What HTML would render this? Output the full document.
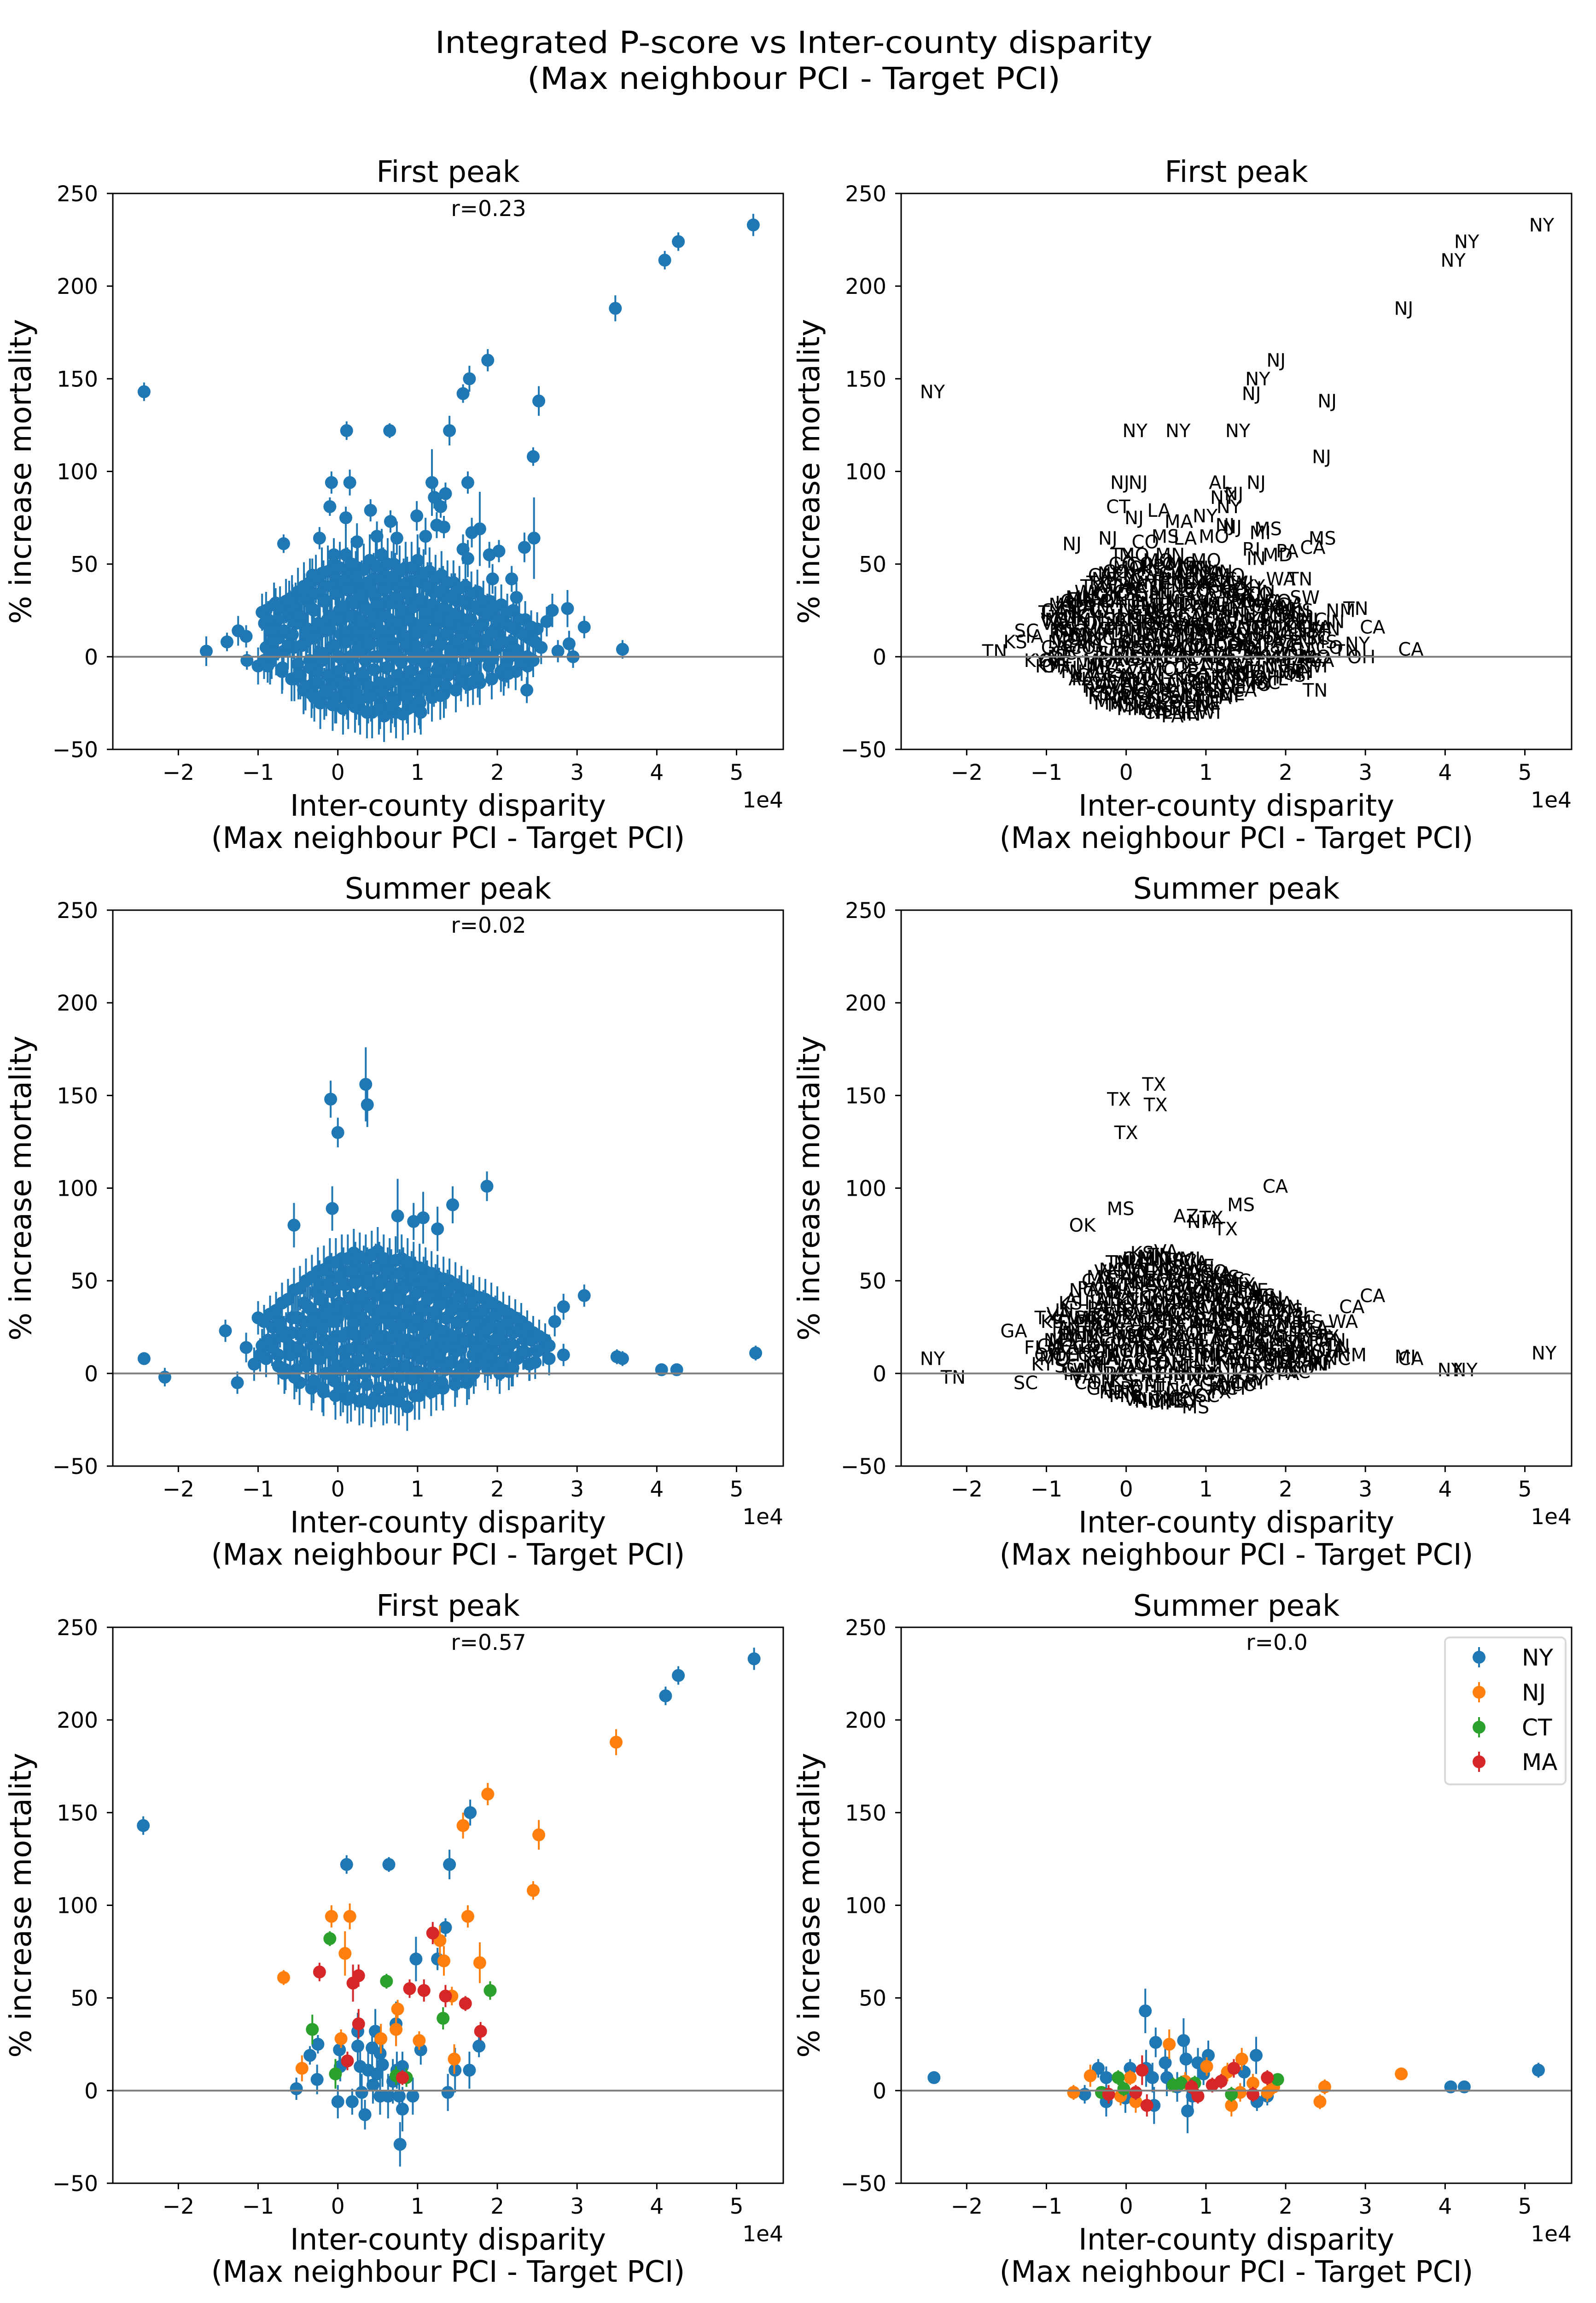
<!DOCTYPE html>
<html><head><meta charset="utf-8"><style>
html,body{margin:0;padding:0;background:#fff;width:3466px;height:5019px;overflow:hidden;position:relative;}
#fig{position:absolute;left:0;top:0;display:block;overflow:hidden;}
svg text{font-family:"DejaVu Sans","Liberation Sans",sans-serif;}
</style></head><body><svg id="fig" xmlns="http://www.w3.org/2000/svg" width="3466" height="5019" viewBox="0 0 3466 5019"><rect width="3466" height="5019" fill="#fff"/><text x="1724" y="115" font-size="66" text-anchor="middle" textLength="1558" lengthAdjust="spacingAndGlyphs">Integrated P-score vs Inter-county disparity</text><text x="1724" y="193" font-size="66" text-anchor="middle" textLength="1158" lengthAdjust="spacingAndGlyphs">(Max neighbour PCI - Target PCI)</text></svg><script>
// ---------- data ----------
const fpOutX = [-2.43,5.21,4.27,4.10,3.48,1.88,1.65,1.57,2.52,0.11,0.65,1.40,2.45,-0.08,0.15,1.63,1.18,1.35,-0.10,1.21,1.29,0.41,0.99,0.66,0.10,1.24,1.33,1.78,1.68,0.49,1.10,-0.23,2.46,-0.68,0.74,0.24,2.34,2.02,1.90,1.57,1.63,-0.05,-0.32,1.94,2.18,2.24,3.09,2.88,2.69,2.62,3.57,2.95,2.90,2.76,2.37,2.14,1.04,-1.65,-1.39,-1.25,-1.15,-1.14,-0.88,-0.90,-0.89,-0.78,-0.57,-0.61,-0.39,-0.31];
const fpOutY = [143,233,224,214,188,160,150,142,138,122,122,122,108,94,94,94,94,88,81,86,81,79,76,73,75,71,70,69,67,65,65,64,64,61,64,62,59,57,55,58,53,55,44,42,42,32,16,26,25,19,4,0,7,3,-18,-9,-30,3,8,14,11,-2,-5,25,20,29,27,31,33,34];
const fpOutE = [5,6,5,5,7,6,7,5,8,5,4,8,5,6,7,6,18,6,5,6,6,6,8,6,6,7,6,20,8,8,10,6,22,5,9,10,8,6,7,8,10,7,9,8,7,8,6,10,9,8,5,6,7,6,7,8,12,8,5,8,6,5,9,10,9,8,12,10,9,9];
const fpOutS = ["NY","NY","NY","NY","NJ","NJ","NY","NJ","NJ","NY","NY","NY","NJ","NJ","NJ","NJ","AL","NJ","CT","NY","NY","LA","NY","MA","NJ","NJ","NJ","MS","MI","MS","MO","NJ","MS","NJ","LA","CO","CA","PA","MD","RI","IN","TX","CA","WA","TN","SW","CA","TN","NM","IN","CA","OH","NY","TN","TN","OH","WI","TN","KS","SC","IA","KY","OH","GA","WA","IA","GA","FL","NC","KY"];
const fpCoreX = [-0.95,-0.8,-0.65,-0.5,-0.35,-0.2,-0.05,0.1,0.25,0.4,0.55,0.7,0.85,1.0,1.15,1.3,1.45,1.6,1.75,1.9,2.05,2.2,2.35,2.5];
const fpCoreY = [
 [24,5,-5,18],[28,10,-3,15,0],[30,12,-8,22,3,-12],[35,20,5,-10,27,-18,12],
 [40,25,8,-15,15,-5,32,-20],[45,30,12,-20,2,20,-8,38,-25],[50,35,15,-22,5,25,-10,42,-15,0],
 [55,40,20,-25,8,30,-12,45,-18,0,12],[48,38,22,-28,10,28,-15,35,-20,3,15],[52,42,18,-30,6,32,-12,25,-22,0,12],
 [55,40,25,-32,12,30,-18,45,-25,4,18],[50,38,20,-30,8,28,-15,42,-22,0,14],[48,36,22,-28,10,30,-12,40,-20,4,16],
 [52,40,18,-25,6,28,-14,45,-18,0,12],[46,35,20,-22,8,26,-10,38,-16,2,14],[44,32,18,-20,6,25,-12,36,-5,12],
 [40,30,15,-18,5,22,-10,33,0],[38,28,12,-15,3,20,-8,30],[35,25,10,-14,2,18,-6],[30,22,8,-12,0,15],
 [28,18,5,-10,12,-3],[25,14,2,-8,8],[20,10,0,-5],[15,5,-2]];
const fpCoreE = [10,12,12,13,13,14,14,14,14,14,14,14,14,14,13,13,12,12,12,11,11,10,10,9];
const fpCore2X = [-0.875,-0.725,-0.575,-0.425,-0.275,-0.125,0.025,0.175,0.325,0.475,0.625,0.775,0.925,1.075,1.225,1.375,1.525,1.675,1.825,1.975,2.125,2.275,2.425];
const fpCore2Y = [
 [20,8,-2,14],[26,14,2,-6,20],[32,18,6,-12,24,-4],[38,30,22,14,6,-2,-10,-16],
 [42,34,26,18,10,2,-6,-14,-22],[46,38,30,22,14,6,-2,-10,-18,-26],
 [48,41,34,27,20,13,6,-1,-8,-15,-22,-28],[50,43,36,29,22,15,8,1,-6,-13,-20,-27],
 [47,40,33,26,19,12,5,-2,-9,-16,-23,-30],[49,42,35,28,21,14,7,0,-7,-14,-21,-28],
 [50,43,36,29,22,15,8,1,-6,-13,-20,-27],[46,39,32,25,18,11,4,-3,-10,-17,-24,-31],
 [48,41,34,27,20,13,6,-1,-8,-15,-22,-27],[45,38,31,24,17,10,3,-4,-11,-18,-24],
 [42,35,28,21,14,7,0,-7,-14,-21],[40,33,26,19,12,5,-2,-9,-16],[37,30,23,16,9,2,-5,-12],
 [34,27,20,13,6,-1,-8,-14],[30,23,16,9,2,-5,-11],[27,20,13,6,-1,-8],[24,16,8,0,-6],[20,12,4,-3],[16,8,0]];
const fpCore2E = [10,12,12,13,13,14,14,14,14,14,14,14,14,13,13,12,12,12,11,11,10,10,9];
const coreDX = [0,0.05,-0.05,0.03,-0.03,0.07,-0.07,0.02,-0.02,0.06,-0.06,0.04];
const coreStates = ["TX","GA","KY","VA","MS","MO","IA","KS","NE","OH","IN","TN","NC","SC","AL","WI","MN","CO","CA","PA","IL","MI"];

const spOutX = [-2.43,5.24,4.06,4.25,3.50,3.57,-0.09,0.0,0.37,0.35,1.87,3.09,-0.07,-2.17,-1.26,-1.41,-1.15,2.83,2.72,2.65,2.83,1.44,1.07,-0.55,0.75,0.95,1.25];
const spOutY = [8,11,2,2,9,8,148,130,145,156,101,42,89,-2,-5,23,14,36,28,15,10,91,84,80,85,82,78];
const spOutE = [3,4,3,3,4,4,10,8,12,20,8,6,12,5,6,6,8,7,8,6,6,10,14,12,20,10,12];
const spOutS = ["NY","NY","NY","NY","MI","CA","TX","TX","TX","TX","CA","CA","MS","TN","SC","GA","FL","CA","WA","TN","NM","MS","TX","OK","AZ","NM","TX"];
const spCoreX = [-1.0,-0.85,-0.7,-0.55,-0.4,-0.25,-0.1,0.05,0.2,0.35,0.5,0.65,0.8,0.95,1.1,1.25,1.4,1.55,1.7,1.85,2.0,2.15,2.3,2.45,2.6];
const spCoreY = [
 [30,15,5],[32,18,8,25],[38,22,10,0,28],[45,30,15,2,22,-5],[50,35,20,5,28,-8,12],
 [55,40,25,8,32,-10,15,48],[60,45,28,10,35,-12,18,52,0],[62,48,30,12,38,-14,20,55,2],
 [65,50,32,14,40,-15,22,58,4],[62,48,30,12,38,-16,20,55,0],[66,50,34,15,42,-15,24,58,5],
 [60,46,30,12,38,-14,20,54,0],[62,48,32,14,40,-18,22,55,3],[58,44,28,10,36,-12,18,50,0],
 [55,42,26,10,34,-10,18,48,0],[52,40,25,8,32,-8,15,45],[50,38,22,6,30,-6,14],
 [46,35,20,5,28,-5,12],[42,32,18,4,25,10],[40,28,15,2,22,8],[36,25,12,0,18],
 [32,22,10,3,15],[28,18,8,12],[22,12,5],[18,8]];
const spCoreE = [9,10,11,12,12,13,13,13,13,13,13,13,13,13,13,12,12,12,11,11,11,10,10,9,9];
const spCore2X = [-0.925,-0.775,-0.625,-0.475,-0.325,-0.175,-0.025,0.125,0.275,0.425,0.575,0.725,0.875,1.025,1.175,1.325,1.475,1.625,1.775,1.925,2.075,2.225,2.375,2.525];
const spCore2Y = [
 [28,18,10],[34,24,14,4],[40,30,20,10,2],[46,38,30,22,14,6,-2],[52,44,36,28,20,12,4,-4],
 [56,48,40,32,24,16,8,0,-8],[60,52,44,36,28,20,12,4,-4,-10],
 [62,55,48,41,34,27,20,13,6,-1,-8,-13],[63,56,49,42,35,28,21,14,7,0,-7,-14],
 [64,57,50,43,36,29,22,15,8,1,-6,-13],[62,55,48,41,34,27,20,13,6,-1,-8,-14],
 [61,54,47,40,33,26,19,12,5,-2,-9,-15],[60,53,46,39,32,25,18,11,4,-3,-10],
 [57,50,43,36,29,22,15,8,1,-6,-12],[54,47,40,33,26,19,12,5,-2,-8],[51,44,37,30,23,16,9,2,-5],
 [48,41,34,27,20,13,6,-1],[45,38,31,24,17,10,3,-3],[41,34,27,20,13,6,0],[38,31,24,17,10,4],
 [34,27,20,13,6,1],[30,23,16,9,3],[25,18,11,5],[20,13,6]];
const spCore2E = [9,10,11,12,12,13,13,13,13,13,13,13,13,13,12,12,12,11,11,11,10,10,9,9];

const fNYx=[-2.44,5.22,4.27,4.11,1.66,0.11,0.64,1.40,1.35,0.98,1.25,1.04,1.77,-0.25,-0.35,-0.52,-0.26,0.02,0.25,0.25,0.47,0.43,0.53,0.03,0.28,0.38,0.56,0.81,0.74,0.0,0.18,0.34,0.30,0.53,0.63,0.77,0.94,0.81,0.78,1.38,1.47,1.65,0.73,0.49,0.69,0.44];
const fNYy=[143,233,224,213,150,122,122,122,88,71,71,22,24,25,19,1,6,22,32,24,32,23,20,13,13,11,14,13,11,-6,-6,-13,-1,-3,-3,-3,-3,-10,-29,-1,11,11,36,9,5,3];
const fNYe=[5,6,5,5,7,5,4,8,5,12,6,8,6,5,5,6,8,6,10,12,12,10,10,8,12,10,12,8,10,9,7,8,10,10,12,10,10,12,12,10,12,10,12,10,12,10];
const fNJx=[-0.68,-0.08,0.15,0.09,0.04,-0.45,0.54,0.75,0.73,1.02,1.28,1.33,1.43,1.46,1.57,1.88,2.52,2.45,3.49,1.63,1.78];
const fNJy=[61,94,94,74,28,12,28,44,33,27,81,70,51,17,143,160,138,108,188,94,69];
const fNJe=[4,6,7,12,5,7,8,5,9,5,8,8,5,8,7,6,8,5,7,6,11];
const fCTx=[-0.1,0.61,-0.32,-0.03,1.32,1.91,0.73,0.86];
const fCTy=[82,59,33,9,39,54,8,7];
const fCTe=[4,4,8,8,6,5,5,5];
const fMAx=[-0.23,0.19,0.26,0.90,1.08,1.19,1.35,1.60,1.79,0.26,0.12,0.81];
const fMAy=[64,58,62,55,54,85,51,47,32,36,16,7];
const fMAe=[5,10,6,5,6,6,6,4,5,8,5,4];
const sNYx=[-2.41,5.17,4.07,4.24,0.24,0.37,0.72,0.75,1.03,1.63,-0.35,0.05,-0.52,-0.25,-0.25,-0.01,0.35,0.77,0.49,0.25,0.33,0.51,0.64,0.90,0.97,1.48,1.64,1.77,0.83];
const sNYy=[7,11,2,2,43,26,27,17,19,19,12,12,-2,-6,7,-4,-8,-11,15,12,7,7,2,15,9,10,-6,-3,-3];
const sNYe=[3,4,3,3,12,8,12,10,8,10,5,5,5,8,6,8,10,12,8,10,8,10,8,8,6,8,5,5,8];
const sNJx=[-0.66,-0.45,0.05,0.54,0.74,1.01,1.27,1.45,1.32,1.43,1.59,1.77,1.85,2.43,2.49,3.45,0.12,-0.07];
const sNJy=[-1,8,7,25,5,13,10,17,-8,-1,4,-1,2,-6,2,9,-6,-3];
const sNJe=[4,6,4,8,5,5,5,6,6,5,5,5,4,4,4,3,6,5];
const sCTx=[-0.1,-0.31,-0.03,0.59,0.69,0.86,1.32,1.9];
const sCTy=[7,-1,1,3,4,4,-2,6];
const sCTe=[4,3,4,4,4,4,4,3];
const sMAx=[0.2,-0.22,0.12,0.26,0.82,0.9,1.08,1.19,1.35,1.59,1.77];
const sMAy=[11,-2,-1,-8,2,-3,3,5,12,-2,7];
const sMAe=[8,5,4,6,4,4,4,4,5,4,4];

const rLabels = ["r=0.23","","r=0.02","","r=0.57","r=0.0"];

// ---------- drawing ----------
const NS="http://www.w3.org/2000/svg";
const svg=document.getElementById('fig');
const BLUE="#1f77b4",ORANGE="#ff7f0e",GREEN="#2ca02c",RED="#d62728";
const PW=1456,PH=1207,XMIN=-2.822,XMAX=5.586,YMIN=-50,YMAX=250;
const colsL=[245,1957],rowsT=[420,1976,3533];
function mk(tag,attrs,parent){const e=document.createElementNS(NS,tag);for(const k in attrs)e.setAttribute(k,attrs[k]);(parent||svg).appendChild(e);return e;}
function axes(L,T){return{sx:v=>L+(v-XMIN)/(XMAX-XMIN)*PW,sy:v=>T+(YMAX-v)/(YMAX-YMIN)*PH};}

function frame(i,L,T){
  const g=mk('g',{});
  
  
  const cp=mk('clipPath',{id:'cp'+i},g);mk('rect',{x:L,y:T,width:PW,height:PH},cp);
  const plot=mk('g',{'clip-path':'url(#cp'+i+')'},g);
  
  
  return {g,plot};
}
function decorate(i,g,L,T,title){
  const a=axes(L,T);
  const zl=mk('line',{x1:L,x2:L+PW,y1:a.sy(0),y2:a.sy(0),stroke:'#808080','stroke-width':4},g);
  
  
  const bx=mk('rect',{x:L,y:T,width:PW,height:PH,fill:'none',stroke:'#000','stroke-width':3},g);
  
  
  for(let v=-2;v<=5;v++){
    const x=a.sx(v);
    mk('line',{x1:x,x2:x,y1:T+PH,y2:T+PH+13,stroke:'#000','stroke-width':3},g);
    const t=mk('text',{x:x,y:T+PH+66,'font-size':47,'text-anchor':'middle'},g);
    
    
    t.textContent=(v<0?'\u2212'+(-v):String(v));
  }
  for(let v=-50;v<=250;v+=50){
    const y=a.sy(v);
    mk('line',{x1:L-13,x2:L,y1:y,y2:y,stroke:'#000','stroke-width':3},g);
    const t=mk('text',{x:L-32,y:y+17,'font-size':47,'text-anchor':'end'},g);
    
    
    t.textContent=(v<0?'\u2212'+(-v):String(v));
  }
  const ex=mk('text',{x:L+PW,y:T+PH+126,'font-size':47,'text-anchor':'end'},g);
  
  
  ex.textContent='1e4';
  const tt=mk('text',{x:L+PW/2,y:T-25,'font-size':64,'text-anchor':'middle'},g);
  
  
  tt.textContent=title;
  const x1=mk('text',{x:L+PW/2,y:T+PH+144,'font-size':64,'text-anchor':'middle',textLength:686,lengthAdjust:'spacingAndGlyphs'},g);
  
  
  x1.textContent='Inter-county disparity';
  const x2=mk('text',{x:L+PW/2,y:T+PH+214,'font-size':64,'text-anchor':'middle',textLength:1029,lengthAdjust:'spacingAndGlyphs'},g);
  
  
  x2.textContent='(Max neighbour PCI - Target PCI)';
  const cy=T+PH/2, cx=L-178;
  const yl=mk('text',{x:cx,y:cy,'font-size':64,'text-anchor':'middle',transform:'rotate(-90 '+cx+' '+cy+')'},g);
  
  
  yl.textContent='% increase mortality';
  if(rLabels[i]){
    const r=mk('text',{x:L+816,y:T+49,'font-size':47,'text-anchor':'middle'},g);
    
    
    r.textContent=rLabels[i];
  }
}
function drawPoints(parent,a,xs,ys,es,color){
  const bars=mk('g',{},parent);
  
  
  for(let k=0;k<xs.length;k++){
    const l=mk('line',{x1:a.sx(xs[k]),x2:a.sx(xs[k]),y1:a.sy(ys[k]-es[k]),y2:a.sy(ys[k]+es[k]),stroke:color,'stroke-width':4},bars);
    
    
  }
  const pts=mk('g',{},parent);
  
  
  for(let k=0;k<xs.length;k++){
    const c=mk('circle',{cx:a.sx(xs[k]),cy:a.sy(ys[k]),r:14,fill:color},pts);
    
    
  }
}
function drawLabels(parent,a,xs,ys,ss){
  for(let k=0;k<xs.length;k++){
    const t=mk('text',{x:a.sx(xs[k]),y:a.sy(ys[k])+14,'font-size':40,'text-anchor':'middle'},parent);
    
    
    t.textContent=ss[k];
  }
}
function flatten(cx,cy,ce,off){
  const X=[],Y=[],E=[],S=[];let n=off;
  for(let i=0;i<cx.length;i++)for(let j=0;j<cy[i].length;j++){
    X.push(cx[i]+coreDX[j%coreDX.length]);Y.push(cy[i][j]);E.push(ce[i]);S.push(coreStates[n++%coreStates.length]);
  }
  return {X,Y,E,S};
}
function merge(p,q){return {X:p.X.concat(q.X),Y:p.Y.concat(q.Y),E:p.E.concat(q.E),S:p.S.concat(q.S)};}
const fpCore=merge(flatten(fpCoreX,fpCoreY,fpCoreE,0),flatten(fpCore2X,fpCore2Y,fpCore2E,7));
const spCore=merge(flatten(spCoreX,spCoreY,spCoreE,0),flatten(spCore2X,spCore2Y,spCore2E,7));
const titles=["First peak","First peak","Summer peak","Summer peak","First peak","Summer peak"];

for(let i=0;i<6;i++){
  const L=colsL[i%2],T=rowsT[Math.floor(i/2)];
  const a=axes(L,T);
  const {g,plot}=frame(i,L,T);
  if(i===0){drawPoints(plot,a,fpCore.X.concat(fpOutX),fpCore.Y.concat(fpOutY),fpCore.E.concat(fpOutE),BLUE);}
  if(i===1){drawLabels(plot,a,fpCore.X.concat(fpOutX),fpCore.Y.concat(fpOutY),fpCore.S.concat(fpOutS));}
  if(i===2){drawPoints(plot,a,spCore.X.concat(spOutX),spCore.Y.concat(spOutY),spCore.E.concat(spOutE),BLUE);}
  if(i===3){drawLabels(plot,a,spCore.X.concat(spOutX),spCore.Y.concat(spOutY),spCore.S.concat(spOutS));}
  if(i===4){drawPoints(plot,a,fNYx,fNYy,fNYe,BLUE);drawPoints(plot,a,fNJx,fNJy,fNJe,ORANGE);drawPoints(plot,a,fCTx,fCTy,fCTe,GREEN);drawPoints(plot,a,fMAx,fMAy,fMAe,RED);}
  if(i===5){drawPoints(plot,a,sNYx,sNYy,sNYe,BLUE);drawPoints(plot,a,sNJx,sNJy,sNJe,ORANGE);drawPoints(plot,a,sCTx,sCTy,sCTe,GREEN);drawPoints(plot,a,sMAx,sMAy,sMAe,RED);}
  decorate(i,g,L,T,titles[i]);
}
const lg=mk('g',{});


mk('rect',{x:3138,y:3555,width:262,height:319,rx:10,fill:'#fff',stroke:'#d9d9d9','stroke-width':4},lg);
const legNames=["NY","NJ","CT","MA"],legColors=[BLUE,ORANGE,GREEN,RED],legY=[3598,3674,3750,3825];
for(let k=0;k<4;k++){
  const e=mk('g',{},lg);
  
  
  mk('line',{x1:3212,x2:3212,y1:legY[k]-22,y2:legY[k]+22,stroke:legColors[k],'stroke-width':4},e);
  mk('circle',{cx:3212,cy:legY[k],r:14,fill:legColors[k]},e);
  const t=mk('text',{x:3305,y:legY[k]+18,'font-size':50},e);
  t.textContent=legNames[k];
}
</script></body></html>
